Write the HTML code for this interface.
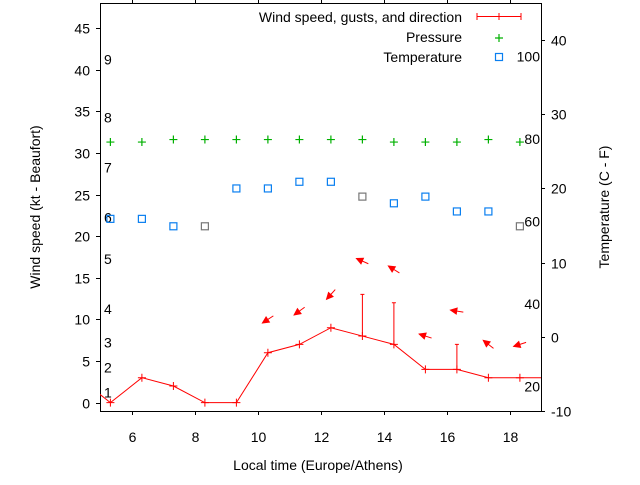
<!DOCTYPE html>
<html><head><meta charset="utf-8"><style>
body{margin:0;background:#fff}
svg{font-family:"Liberation Sans",sans-serif;font-size:14px}
</style></head><body>
<svg id="c" width="640" height="480" xmlns="http://www.w3.org/2000/svg"></svg>
<script>
const times=[4.33,5.33,6.33,7.33,8.33,9.33,10.33,11.33,12.33,13.33,14.33,15.33,16.33,17.33,18.33,19.33];
const wind=[3,0,3,2,0,0,6,7,9,8,7,4,4,3,3,3];
const gustTimes=[13.33,14.33,16.33];
const gusts=[13,12,7];
const ptimes=[5.33,6.33,7.33,8.33,9.33,10.33,11.33,12.33,13.33,14.33,15.33,16.33,17.33,18.33];
const pressure=[31.3,31.3,31.6,31.6,31.6,31.6,31.6,31.6,31.6,31.3,31.3,31.3,31.6,31.3];
const tempC=[15.9,15.9,14.9,14.9,20,20,20.9,20.9,18.9,18,18.9,16.9,16.9,14.9];
const tempGray=[0,0,0,1,0,0,0,0,1,0,0,0,0,1];
const arrowTimes=[10.33,11.33,12.33,13.33,14.33,15.33,16.33,17.33,18.33];
const arrowKt=[10,11,13,17,16,8,11,7,7];
const arrowAngle=[147,144,132,204,212,198,189,218,162];
const xTicks=[6,8,10,12,14,16,18];
const yTicks=[0,5,10,15,20,25,30,35,40,45];
const y2Ticks=[-10,0,10,20,30,40];
const bftKt=[1,4,7,11,17,22,28,34,41];
const bftLabels=["1","2","3","4","5","6","7","8","9"];
const fLabels=[20,40,60,80,100];

const L=100,R=541,T=3,B=411;
const sx=t=>L+(t-5)/(19-5)*(R-L);
const sy=v=>B-(v+1)/(48+1)*(B-T);
const sy2=c=>B-(c+10)/(45+10)*(B-T);
const svg=document.getElementById('c');
const NS='http://www.w3.org/2000/svg';
function mk(tag,attrs,parent){const e=document.createElementNS(NS,tag);for(const k in attrs)e.setAttribute(k,attrs[k]);(parent||svg).appendChild(e);return e;}
function txt(s,x,y,anchor,name,parent){const e=mk('text',{x:x,y:y,'text-anchor':anchor},parent);e.textContent=s;return e;}

// clip
const defs=mk('defs',{});const cp=mk('clipPath',{id:'pc'},defs);mk('rect',{x:L,y:T,width:R-L,height:B-T},cp);

// axes ticks
const ax=mk('g',{stroke:'#000','stroke-width':1});

xTicks.forEach(t=>{const x=Math.round(sx(t))+.5;mk('line',{x1:x,x2:x,y1:B,y2:B+4},ax);mk('line',{x1:x,x2:x,y1:T,y2:T-4},ax);
 txt(String(t),x,B+31,'middle','x-tick-label');});
yTicks.forEach(v=>{const y=Math.round(sy(v))+.5;mk('line',{x1:L-4,x2:L,y1:y,y2:y},ax);txt(String(v),L-10,y+5,'end','y-tick-label');});
y2Ticks.forEach(v=>{const y=Math.round(sy2(v))+.5;mk('line',{x1:R,x2:R+4,y1:y,y2:y},ax);txt(String(v),R+10,y+5,'start','y2-tick-label');});
const box=mk('rect',{x:L+.5,y:T+.5,width:R-L,height:B-T,fill:'none',stroke:'#000'});


// inside labels
bftKt.forEach((k,i)=>txt(bftLabels[i],104,sy(k)+3,'start','beaufort-label'));
fLabels.forEach(f=>{const c=(f-32)*5/9;txt(String(f),540,sy2(c)+5,'end','fahrenheit-label');});

const g=mk('g',{'clip-path':'url(#pc)'});


// temperature
tempC.forEach((c,i)=>{const r=mk('rect',{x:sx(ptimes[i])-3.5,y:sy2(c)-3.5,width:7,height:7,fill:'none',stroke:tempGray[i]?'#777':'#0a7ff0','stroke-width':1.2},g);
 });
// pressure
pressure.forEach((p,i)=>{const x=sx(ptimes[i]),y=sy(p);const pth=mk('path',{d:`M${x-4},${y}H${x+4}M${x},${y-4}V${y+4}`,stroke:'#00b000','stroke-width':1.2},g);
 });
// wind line
const wl=mk('polyline',{points:times.map((t,i)=>sx(t)+','+sy(wind[i])).join(' '),fill:'none',stroke:'#f00','stroke-width':1},g);

times.forEach((t,i)=>{const x=sx(t),y=sy(wind[i]);const p=mk('path',{d:`M${x-4},${y}H${x+4}M${x},${y-4}V${y+4}`,stroke:'#f00'},g);
 });
gustTimes.forEach((t,i)=>{const x=sx(t);const wi=times.findIndex(v=>Math.abs(v-t)<0.01);
 const p=mk('path',{d:`M${x},${sy(wind[wi])}V${sy(gusts[i])}M${x-2},${sy(gusts[i])}H${x+2}`,stroke:'#f00'},g);
 });
// arrows
arrowTimes.forEach((t,i)=>{const cx=sx(t),cy=sy(arrowKt[i]);const a=arrowAngle[i]*Math.PI/180;
 const dx=Math.cos(a)*6.5,dy=Math.sin(a)*6.5;const hx=cx+dx,hy=cy+dy;
 const b1=a+Math.PI-0.45,b2=a+Math.PI+0.45;
 const ag=mk('g',{},g);
 mk('line',{x1:cx-dx,y1:cy-dy,x2:hx,y2:hy,stroke:'#f00'},ag);
 mk('polygon',{points:`${hx},${hy} ${hx+Math.cos(b1)*7},${hy+Math.sin(b1)*7} ${hx+Math.cos(b2)*7},${hy+Math.sin(b2)*7}`,fill:'#f00',stroke:'#f00'},ag);});

// legend
const lg=mk('g',{});
txt('Wind speed, gusts, and direction',462,22,'end','legend-wind-label',lg);
mk('path',{d:'M477,16.5H521M477,13V20M521,13V20M499,13V20',stroke:'#f00'},lg);
txt('Pressure',462,42,'end','legend-pressure-label',lg);
mk('path',{d:'M499,34V42M495,38H503',stroke:'#00b000','stroke-width':1.2},lg);
txt('Temperature',462,62,'end','legend-temperature-label',lg);
mk('rect',{x:495.5,y:53.5,width:7,height:7,fill:'none',stroke:'#0a7ff0','stroke-width':1.2},lg);

// titles
txt('Local time (Europe/Athens)',318,470,'middle','x-axis-title');
const yt=txt('Wind speed (kt - Beaufort)',0,0,'middle','y-axis-title');yt.setAttribute('transform','translate(40,207) rotate(-90)');
const y2t=txt('Temperature (C - F)',0,0,'middle','y2-axis-title');y2t.setAttribute('transform','translate(609,207) rotate(-90)');
</script>
</body></html>
